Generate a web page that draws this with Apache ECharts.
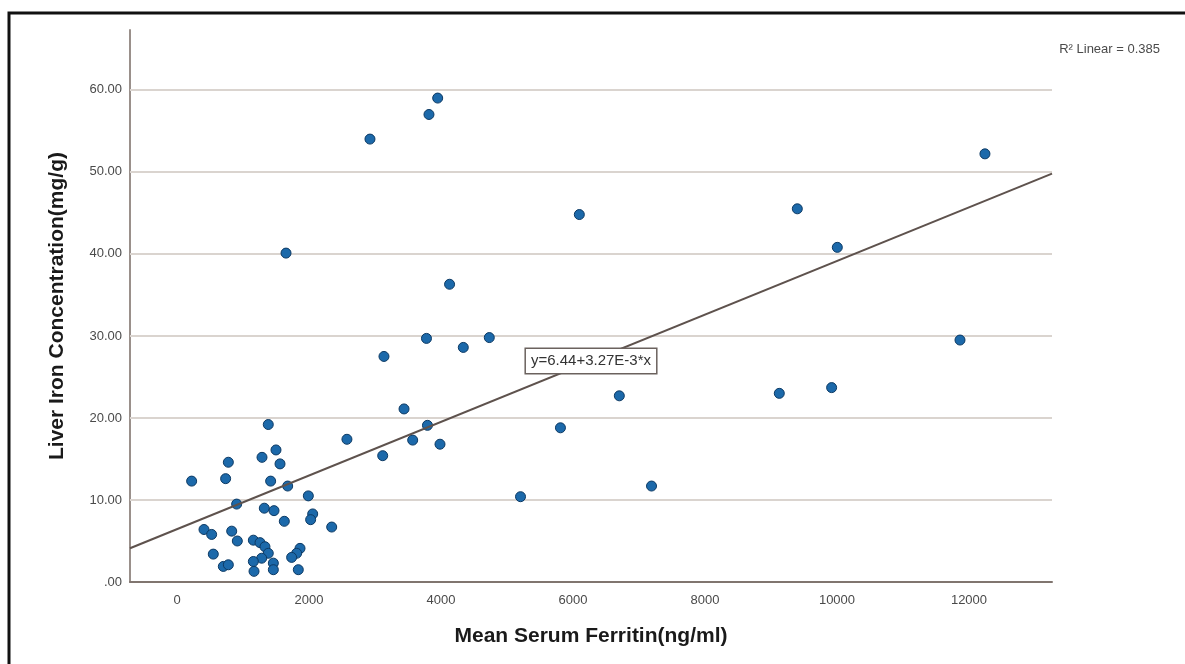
<!DOCTYPE html>
<html>
<head>
<meta charset="utf-8">
<script src="https://cdn.jsdelivr.net/npm/echarts@6/dist/echarts.min.js"></script>
<style>
html,body{margin:0;padding:0;background:#fff;}
#chart{width:1185px;height:664px;}
</style>
</head>
<body>
<div id="chart"></div>
<script>
// Mean serum ferritin (ng/ml)
const ferritin = [
  3950, 3818, 2924, 12242, 6096, 9399, 10005, 1652, 4130, 3780,
  4732, 4338, 3136, 11864, 6702, 9126, 9919, 3440, 3795, 5810,
  2575, 3571, 3985, 3117, 7190, 5205,
  1383, 1500, 778, 1288, 1561, 222, 737, 1419, 1677, 1990,
  904, 1323, 1470, 1626, 2056, 2025, 2344, 409, 525, 829,
  914, 550, 1157, 1258, 1333, 1383, 1283, 1157, 1167, 1460,
  1460, 1864, 1813, 1737, 1838, 702, 778
];
// Liver iron concentration (mg/g)
const liverIron = [
  59.0, 57.0, 54.0, 52.2, 44.8, 45.5, 40.8, 40.1, 36.3, 29.7,
  29.8, 28.6, 27.5, 29.5, 22.7, 23.0, 23.7, 21.1, 19.1, 18.8,
  17.4, 17.3, 16.8, 15.4, 11.7, 10.4,
  19.2, 16.1, 14.6, 15.2, 14.4, 12.3, 12.6, 12.3, 11.7, 10.5,
  9.5, 9.0, 8.7, 7.4, 8.3, 7.6, 6.7, 6.4, 5.8, 6.2,
  5.0, 3.4, 5.1, 4.8, 4.3, 3.5, 2.9, 2.5, 1.3, 2.3,
  1.5, 4.1, 3.5, 3.0, 1.5, 1.9, 2.1
];
// Linear fit shown in the chart: y = 6.44 + 3.27E-3 * x
const fitIntercept = 6.44;
const fitSlope = 3.27e-3;
const fitLabel = 'y=6.44+3.27E-3*x';
const fitLabelX = 6273;
const r2Text = 'R\u00b2 Linear = 0.385';
// Axis extents and tick labels
const xRange = [-712, 13258];
const yRange = [0, 67.3];
const xTicks = [0, 2000, 4000, 6000, 8000, 10000, 12000];
const yTicks = [0, 10, 20, 30, 40, 50, 60];

const points = ferritin.map((x, i) => [x, liverIron[i]]);
const fitLine = xRange.map(x => [x, fitIntercept + fitSlope * x]);

const chart = echarts.init(document.getElementById('chart'), null, {renderer: 'canvas'});
const font = '"Liberation Sans", Arial, sans-serif';

chart.setOption({
  backgroundColor: '#ffffff',
  animation: false,
  textStyle: {fontFamily: font},
  title: {
    text: r2Text,
    right: 20,
    top: 38,
    textStyle: {fontSize: 13, fontWeight: 'normal', color: '#4a4a4a', fontFamily: font}
  },
  graphic: [{
    type: 'rect',
    shape: {x: 9, y: 13, width: 1300, height: 800},
    style: {fill: 'none', stroke: '#111', lineWidth: 3},
    silent: true,
    z: 100
  }],
  grid: {left: 130, right: 133, top: 30, bottom: 82, containLabel: false},
  xAxis: {
    type: 'value',
    min: xRange[0],
    max: xRange[1],
    splitNumber: 7,
    name: 'Mean Serum Ferritin(ng/ml)',
    nameLocation: 'middle',
    nameGap: 44,
    nameTextStyle: {fontSize: 21, fontWeight: 'bold', color: '#1a1a1a', fontFamily: font},
    axisLine: {show: true, onZero: false, lineStyle: {color: '#80756f', width: 2}},
    axisTick: {show: false},
    splitLine: {show: false},
    axisLabel: {
      fontSize: 13, color: '#4a4a4a', margin: 12,
      showMinLabel: false, showMaxLabel: false,
      formatter: v => xTicks.indexOf(v) >= 0 ? String(v) : ''
    }
  },
  yAxis: {
    type: 'value',
    min: yRange[0],
    max: yRange[1],
    interval: 10,
    name: 'Liver Iron Concentration(mg/g)',
    nameLocation: 'middle',
    nameGap: 62,
    nameTextStyle: {fontSize: 21, fontWeight: 'bold', color: '#1a1a1a', fontFamily: font},
    axisLine: {show: true, onZero: false, lineStyle: {color: '#9a908b', width: 2}},
    axisTick: {show: false},
    splitLine: {show: false},
    axisLabel: {
      fontSize: 13, color: '#4a4a4a', margin: 8,
      showMaxLabel: false,
      formatter: v => yTicks.indexOf(v) < 0 ? '' : (v === 0 ? '.00' : v.toFixed(2))
    }
  },
  series: [
    {
      type: 'scatter',
      data: points,
      symbolSize: 10,
      itemStyle: {color: '#1c69aa', borderColor: '#0d3a64', borderWidth: 1, opacity: 1},
      z: 3,
      markLine: {
        silent: true,
        z: 1,
        symbol: 'none',
        label: {show: false},
        lineStyle: {color: '#dad4cf', width: 2, type: 'solid'},
        data: yTicks.filter(v => v > 0).map(v => ({yAxis: v}))
      }
    },
    {
      type: 'line',
      data: fitLine,
      showSymbol: false,
      symbol: 'none',
      lineStyle: {color: '#5e524d', width: 2},
      z: 4,
      markPoint: {
        silent: true,
        symbol: 'rect',
        symbolSize: 1,
        itemStyle: {color: 'rgba(0,0,0,0)'},
        label: {
          show: true,
          position: 'inside',
          formatter: fitLabel,
          fontSize: 15,
          color: '#333',
          fontFamily: font,
          backgroundColor: '#fff',
          borderColor: '#6b625e',
          borderWidth: 1.5,
          padding: [5, 5, 4, 5]
        },
        data: [{coord: [fitLabelX, fitIntercept + fitSlope * fitLabelX]}]
      }
    }
  ]
});
</script>
</body>
</html>
